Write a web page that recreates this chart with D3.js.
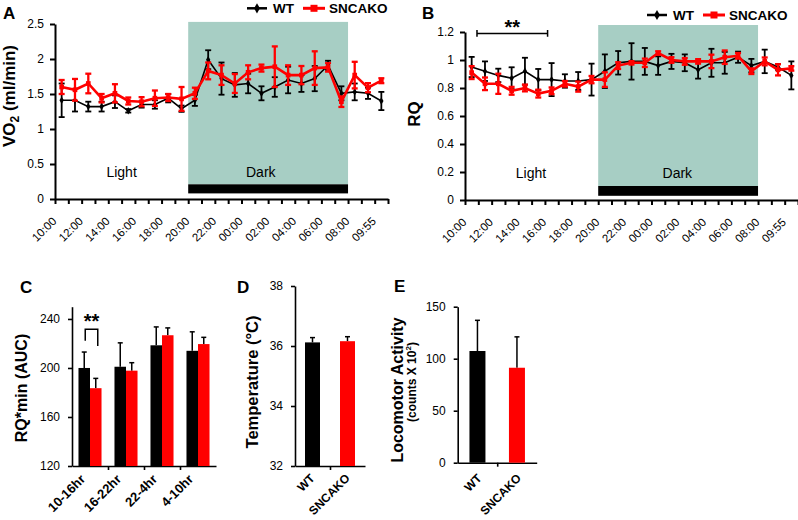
<!DOCTYPE html>
<html><head><meta charset="utf-8">
<script src="https://cdn.jsdelivr.net/npm/d3@7"></script>
<style>body{margin:0;background:#fff}svg{display:block;font-family:"Liberation Sans",Arial,sans-serif}</style>
</head><body><svg id="c" width="798" height="520"></svg>
<script>
// ---------- DATA ----------
const hours = ["10:00","11:00","12:00","13:00","14:00","15:00","16:00","17:00","18:00","19:00","20:00","21:00","22:00","23:00","00:00","01:00","02:00","03:00","04:00","05:00","06:00","07:00","08:00","09:00","09:55"];
const labelEvery = 2;
const darkStart = "20:00", darkEnd = "08:00";
const seriesNames = ["WT","SNCAKO"];

const vo2WT    = [1.41,1.41,1.32,1.32,1.39,1.26,1.35,1.35,1.44,1.29,1.41,1.99,1.72,1.63,1.65,1.51,1.60,1.70,1.65,1.72,1.91,1.51,1.53,1.51,1.40];
const vo2WTerr = [0.24,0.16,0.07,0.07,0.09,0.025,0.045,0.06,0.06,0.045,0.08,0.135,0.23,0.17,0.14,0.10,0.14,0.19,0.12,0.18,0.065,0.10,0.12,0.08,0.13];
const vo2KO    = [1.60,1.56,1.65,1.44,1.51,1.40,1.39,1.44,1.45,1.43,1.51,1.83,1.77,1.65,1.81,1.87,1.89,1.77,1.77,1.87,1.88,1.39,1.77,1.59,1.69];
const vo2KOerr = [0.10,0.155,0.14,0.06,0.13,0.05,0.065,0.11,0.05,0.17,0.08,0.12,0.14,0.135,0.10,0.05,0.29,0.14,0.13,0.24,0.06,0.075,0.19,0.065,0.035];
const vo2Ticks = [0,0.5,1,1.5,2,2.5];

const rqWT    = [0.95,0.92,0.89,0.87,0.92,0.86,0.86,0.85,0.85,0.86,0.92,0.98,0.99,0.99,0.96,0.99,0.98,0.93,0.98,0.98,1.02,0.96,0.99,0.95,0.89];
const rqWTerr = [0.072,0.07,0.048,0.078,0.096,0.076,0.118,0.048,0.064,0.114,0.12,0.084,0.13,0.096,0.066,0.054,0.06,0.063,0.10,0.078,0.04,0.048,0.084,0.02,0.10];
const rqKO    = [0.91,0.83,0.83,0.78,0.80,0.76,0.78,0.83,0.81,0.86,0.86,0.96,0.98,0.98,1.05,1.00,0.99,0.99,0.99,1.02,1.03,0.92,0.99,0.93,0.94];
const rqKOerr = [0.046,0.045,0.072,0.028,0.024,0.028,0.024,0.02,0.036,0.026,0.052,0.024,0.012,0.03,0.012,0.02,0.024,0.016,0.048,0.048,0.02,0.02,0.028,0.04,0.016];
const rqTicks = [0,0.2,0.4,0.6,0.8,1,1.2];

const aucGroups = ["10-16hr","16-22hr","22-4hr","4-10hr"];
const aucWT    = [200,201,218.5,214];
const aucWTerr = [13,19.5,15,15.5];
const aucKO    = [183.5,197.8,226.7,219.5];
const aucKOerr = [8,6.5,6,5.5];
const aucTicks = [120,160,200,240];

const tempVals = [36.12,36.16];
const tempErr  = [0.16,0.15];
const tempTicks = [32,34,36,38];

const locoVals = [107.4,91.3];
const locoErr  = [29.5,29.7];
const locoTicks = [0,50,100,150];

// ---------- STYLE ----------
const RED = "#ff0000", BLACK = "#000", SHADE = "#a7cec4";
const svg = d3.select("#c");

function styleAxis(g, w){
  g.selectAll("path,line").attr("stroke","#000").attr("stroke-width",w);
  g.selectAll("text").attr("fill","#000").attr("font-size",12);
}

// ---------- LINE PANELS ----------
function linePanel(c){
  const g = svg.append("g");
  const x = d3.scaleBand().domain(hours).range([c.x0,c.x1]);
  const bw = x.bandwidth();
  const xl = d3.scaleLinear().domain([0,hours.length]).range([c.x0,c.x1]);
  const y = d3.scaleLinear().domain([0,c.ymax]).range([c.yb,c.yt]);
  const xs = x(darkStart), xe = x(darkEnd);
  g.append("rect").attr("x",xs).attr("width",xe-xs).attr("y",y(c.shadeTop)).attr("height",y(c.barTop)-y(c.shadeTop)).attr("fill",SHADE);
  g.append("rect").attr("x",xs).attr("width",xe-xs).attr("y",y(c.barTop)).attr("height",y(c.barBot)-y(c.barTop)).attr("fill","#000");
  g.append("text").attr("x",xl(c.lightPos)).attr("y",c.yb-22.5).attr("text-anchor","middle").attr("font-size",14).text("Light");
  g.append("text").attr("x",xl(c.darkPos)).attr("y",c.yb-22.5).attr("text-anchor","middle").attr("font-size",14).text("Dark");

  const ya = g.append("g").attr("transform",`translate(${c.x0},0)`)
    .call(d3.axisLeft(y).tickValues(c.ticks).tickFormat(d3.format("")).tickSize(5).tickSizeOuter(0).tickPadding(6));
  styleAxis(ya,2);
  const xa = g.append("g").attr("transform",`translate(0,${c.yb})`)
    .call(d3.axisBottom(xl).tickValues(d3.range(hours.length+1)).tickFormat("").tickSize(5).tickSizeOuter(0));
  styleAxis(xa,2);
  g.selectAll(".xlab").data(hours.filter((d,i)=>i%labelEvery===0)).join("text")
    .attr("transform",d=>`translate(${x(d)+bw/2-4.5},${c.yb+23}) rotate(-45)`)
    .attr("text-anchor","end").attr("font-size",11.5).text(d=>d);

  function series(vals, errs, color, lw, elw, marker){
    const pts = vals.map((v,i)=>({h:hours[i],v,e:errs[i]}));
    const cx = d=>x(d.h)+bw/2;
    g.append("g").selectAll("g").data(pts).join("g").each(function(d){
      const s = d3.select(this);
      s.append("line").attr("x1",cx(d)).attr("x2",cx(d)).attr("y1",y(d.v-d.e)).attr("y2",y(d.v+d.e)).attr("stroke",color).attr("stroke-width",elw);
      [d.v-d.e,d.v+d.e].forEach(t=>s.append("line").attr("x1",cx(d)-3).attr("x2",cx(d)+3).attr("y1",y(t)).attr("y2",y(t)).attr("stroke",color).attr("stroke-width",elw));
    });
    g.append("path").datum(pts).attr("fill","none").attr("stroke",color).attr("stroke-width",lw)
      .attr("d",d3.line().x(cx).y(d=>y(d.v)));
    g.append("g").selectAll("path").data(pts).join("path")
      .attr("transform",d=>`translate(${cx(d)},${y(d.v)})`)
      .attr("d",d3.symbol().type(marker).size(marker===d3.symbolSquare?22:16)()).attr("fill",color);
  }
  series(c.wt,c.wtErr,BLACK,1.6,1.8,d3.symbolDiamond);
  series(c.ko,c.koErr,RED,2.6,2.3,d3.symbolSquare);

  const lg = g.append("g").attr("transform",`translate(${c.legX},${c.legY})`);
  lg.append("line").attr("x1",0).attr("x2",20).attr("stroke",BLACK).attr("stroke-width",2.5);
  lg.append("path").attr("transform","translate(10,0)").attr("d",d3.symbol().type(d3.symbolDiamond).size(30)()).attr("fill",BLACK);
  lg.append("text").attr("x",26).attr("y",4.7).attr("font-size",13.5).attr("font-weight","bold").text(seriesNames[0]);
  lg.append("line").attr("x1",56).attr("x2",78).attr("stroke",RED).attr("stroke-width",3);
  lg.append("rect").attr("x",63.5).attr("y",-3.5).attr("width",7).attr("height",7).attr("fill",RED);
  lg.append("text").attr("x",82).attr("y",4.7).attr("font-size",13.5).attr("font-weight","bold").text(seriesNames[1]);

  g.append("text").attr("x",c.letterX).attr("y",19).attr("font-size",17).attr("font-weight","bold").text(c.letter);
  return {g,x,xl,y};
}

const A = linePanel({x0:55,x1:388,yb:199,yt:24,ymax:2.5,ticks:vo2Ticks,shadeTop:2.53,barTop:0.21,barBot:0.08,
  lightPos:5,darkPos:15.45,wt:vo2WT,wtErr:vo2WTerr,ko:vo2KO,koErr:vo2KOerr,legX:247,legY:8.3,letter:"A",letterX:3});
const vt = A.g.append("text").attr("transform","translate(15,96) rotate(-90)").attr("text-anchor","middle")
  .attr("font-size",17).attr("font-weight","bold");
vt.append("tspan").text("VO");
vt.append("tspan").attr("font-size",12).attr("dy",4).text("2");
vt.append("tspan").attr("dy",-4).text(" (ml/min)");

const B = linePanel({x0:465,x1:798,yb:200,yt:32,ymax:1.2,ticks:rqTicks,shadeTop:1.25,barTop:0.10,barBot:0.03,
  lightPos:4.95,darkPos:15.94,wt:rqWT,wtErr:rqWTerr,ko:rqKO,koErr:rqKOerr,legX:647,legY:15,letter:"B",letterX:422});
B.g.append("text").attr("transform","translate(420,114) rotate(-90)").attr("text-anchor","middle")
  .attr("font-size",17).attr("font-weight","bold").text("RQ");
{
  const bx0 = B.xl(0.9), bx1 = B.xl(6.2), by = B.y(1.19), bt = B.y(1.214), bb = B.y(1.166);
  B.g.append("path").attr("d",`M${bx0},${bt}V${bb}M${bx0},${by}H${bx1}M${bx1},${bt}V${bb}`).attr("stroke","#000").attr("stroke-width",1.5).attr("fill","none");
  B.g.append("text").attr("x",(bx0+bx1)/2).attr("y",34).attr("text-anchor","middle").attr("font-size",20).attr("font-weight","bold").text("**");
}

// ---------- BAR PANELS ----------
function barPanel(c){
  const g = svg.append("g");
  const x = d3.scaleBand().domain(c.cats).range([c.x0,c.x1]).paddingInner(c.pi).paddingOuter(c.po);
  const xl = d3.scaleLinear().domain([0,c.cats.length]).range([c.x0,c.x1]);
  const y = d3.scaleLinear().domain(c.domain).range([c.yb,c.yt]);
  const ya = g.append("g").attr("transform",`translate(${c.x0},0)`)
    .call(d3.axisLeft(y).tickValues(c.ticks).tickFormat(d3.format("")).tickSize(4).tickSizeOuter(0).tickPadding(8));
  styleAxis(ya,1.6);
  const xa = g.append("g").attr("transform",`translate(0,${c.yb})`)
    .call(d3.axisBottom(xl).tickValues(c.xticks).tickFormat("").tickSize(4).tickSizeOuter(0));
  styleAxis(xa,1.6);
  g.append("text").attr("x",c.letterX).attr("y",c.letterY).attr("font-size",17).attr("font-weight","bold").text(c.letter);
  return {g,x,xl,y};
}
function errUp(g,cx,y0,y1){
  g.append("line").attr("x1",cx).attr("x2",cx).attr("y1",y0).attr("y2",y1).attr("stroke","#000").attr("stroke-width",1.5);
  g.append("line").attr("x1",cx-2.5).attr("x2",cx+2.5).attr("y1",y1).attr("y2",y1).attr("stroke","#000").attr("stroke-width",1.5);
}

// C
const C = barPanel({cats:aucGroups,x0:72,x1:216,pi:0.36,po:0.18,domain:[120,250],yb:466,yt:306.7,ticks:aucTicks,xticks:[1,2,3],letter:"C",letterX:20,letterY:293});
{
  const x1 = d3.scaleBand().domain(seriesNames).range([0,C.x.bandwidth()]);
  const data = aucGroups.map((gname,i)=>[{g:gname,s:"WT",v:aucWT[i],e:aucWTerr[i]},{g:gname,s:"SNCAKO",v:aucKO[i],e:aucKOerr[i]}]).flat();
  data.forEach(d=>{
    const bx = C.x(d.g)+x1(d.s);
    errUp(C.g,bx+x1.bandwidth()/2,C.y(d.v),C.y(d.v+d.e));
    C.g.append("rect").attr("x",bx).attr("width",x1.bandwidth()).attr("y",C.y(d.v)).attr("height",C.y(120)-C.y(d.v)).attr("fill",d.s==="WT"?BLACK:RED);
  });
  C.g.selectAll(".xlab").data(aucGroups).join("text")
    .attr("transform",d=>`translate(${C.x(d)+C.x.bandwidth()/2-4},480) rotate(-45)`)
    .attr("text-anchor","end").attr("font-size",13).attr("font-weight","bold").text(d=>d);
  C.g.append("text").attr("transform","translate(27,388) rotate(-90)").attr("text-anchor","middle")
    .attr("font-size",16).attr("font-weight","bold").text("RQ*min (AUC)");
  const g0 = aucGroups[0];
  const lx = C.x(g0)+x1("WT")+x1.bandwidth()/2+1, rx = C.x(g0)+x1("SNCAKO")+x1.bandwidth()/2+2;
  C.g.append("path").attr("d",`M${lx},${C.y(222.3)}V${C.y(231.6)}H${rx}V${C.y(217.9)}`).attr("fill","none").attr("stroke","#000").attr("stroke-width",1.5);
  C.g.append("text").attr("x",(lx+rx)/2).attr("y",328).attr("text-anchor","middle").attr("font-size",20).attr("font-weight","bold").text("**");
}

// D and E
function twoBar(P, vals, errs, bwid, base, dxLab, yLab){
  seriesNames.forEach((s,i)=>{
    const cx = P.x(s)+P.x.bandwidth()/2;
    errUp(P.g,cx,P.y(vals[i]),P.y(vals[i]+errs[i]));
    P.g.append("rect").attr("x",cx-bwid/2).attr("width",bwid).attr("y",P.y(vals[i])).attr("height",P.y(base)-P.y(vals[i])).attr("fill",i===0?BLACK:RED);
  });
  P.g.selectAll(".xlab").data(seriesNames).join("text")
    .attr("transform",d=>`translate(${P.x(d)+P.x.bandwidth()/2+dxLab},${yLab}) rotate(-45)`)
    .attr("text-anchor","end").attr("font-size",12).attr("font-weight","bold").text(d=>d);
}
const D = barPanel({cats:seriesNames,x0:295,x1:365,pi:0,po:0,domain:[32,38],yb:466,yt:286,ticks:tempTicks,xticks:[1],letter:"D",letterX:237,letterY:293});
twoBar(D,tempVals,tempErr,15,32,3,479);
D.g.append("text").attr("transform","translate(258,382) rotate(-90)").attr("text-anchor","middle")
  .attr("font-size",16.5).attr("font-weight","bold").text("Temperature (\u00B0C)");

const E = barPanel({cats:seriesNames,x0:457.7,x1:536.7,pi:0,po:0,domain:[0,150],yb:462.7,yt:306.7,ticks:locoTicks,xticks:[1],letter:"E",letterX:394,letterY:292});
twoBar(E,locoVals,locoErr,16,0,5,479);
E.g.append("text").attr("transform","translate(403,390) rotate(-90)").attr("text-anchor","middle")
  .attr("font-size",16).attr("font-weight","bold").text("Locomotor Activity");
const et = E.g.append("text").attr("transform","translate(416,382) rotate(-90)").attr("text-anchor","middle")
  .attr("font-size",12).attr("font-weight","bold");
et.append("tspan").text("(counts X 10");
et.append("tspan").attr("font-size",8).attr("dy",-5).text("2");
et.append("tspan").attr("dy",5).text(")");
</script></body></html>
